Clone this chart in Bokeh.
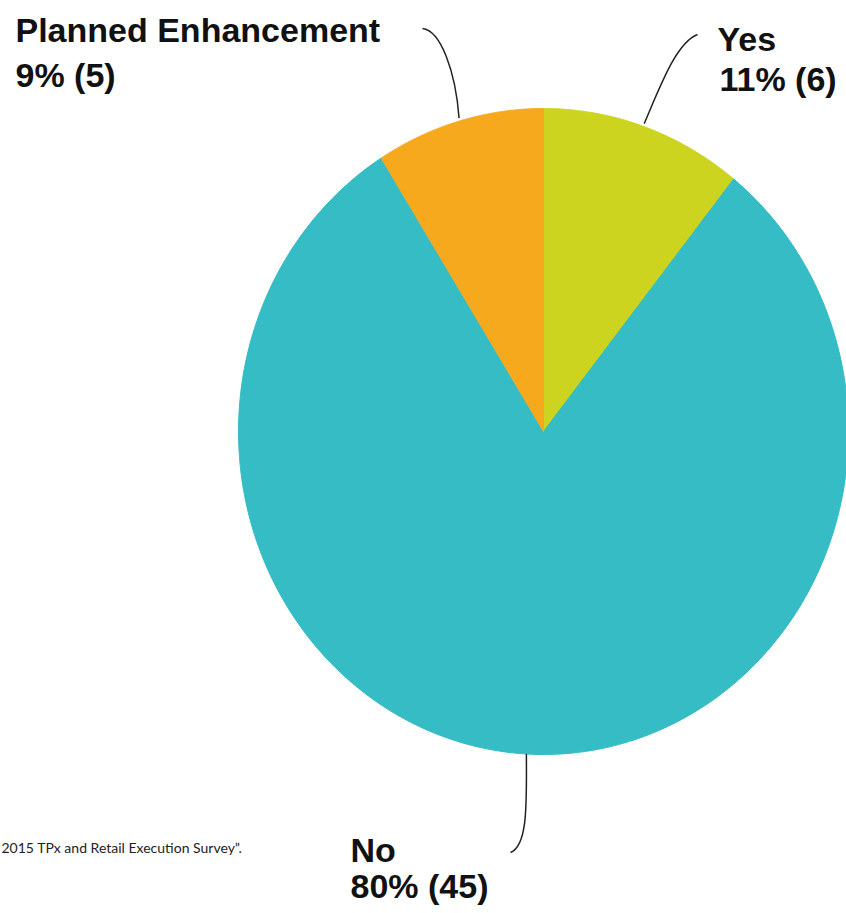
import numpy as np
from bokeh.plotting import figure
from bokeh.models import Range1d
from bokeh.core.properties import value
from bokeh.embed import file_html
from bokeh.resources import INLINE

# ---- data ----
categories = ["Yes", "No", "Planned Enhancement"]
counts = [6, 45, 5]
percents = ["11%", "80%", "9%"]
colors = ["#cdd420", "#35bcc4", "#f7a91e"]
footnote = "2015 TPx and Retail Execution Survey\u201d."

W, H = 846, 913
p = figure(width=W, height=H, output_backend="svg", toolbar_location=None,
           x_range=Range1d(0, W), y_range=Range1d(0, H), min_border=0)
p.axis.visible = False
p.grid.visible = False
p.outline_line_color = None
p.background_fill_color = "white"
p.border_fill_color = "white"

def fy(py):
    return H - py

cx, cy = 543, fy(431)
rx, ry = 305, 323

total = sum(counts)
# clockwise from 12 o'clock
start = np.pi / 2
mids = []
for cat, cnt, col in zip(categories, counts, colors):
    sweep = cnt / total * 2 * np.pi
    t = np.linspace(start, start - sweep, 200)
    xs = [cx] + list(cx + rx * np.cos(t)) + [cx]
    ys = [cy] + list(cy + ry * np.sin(t)) + [cy]
    p.patch(xs, ys, fill_color=col, line_color=col, line_width=1)
    mids.append(start - sweep / 2)
    start -= sweep

def edge(a):
    return cx + rx * np.cos(a), cy + ry * np.sin(a)

# leader lines
ex, ey = edge(mids[0])  # Yes
p.bezier(x0=[697], y0=[fy(34)], x1=[ex], y1=[ey + 3], cx0=[676], cy0=[fy(42)], cx1=[660], cy1=[fy(85)],
         line_color="#222222", line_width=1.5)
ex, ey = edge(mids[2])  # Planned
p.bezier(x0=[422], y0=[fy(28)], x1=[ex], y1=[ey + 3], cx0=[440], cy0=[fy(30)], cx1=[455], cy1=[fy(70)],
         line_color="#222222", line_width=1.5)
ex, ey = edge(mids[1])  # No
p.bezier(x0=[ex], y0=[ey], x1=[510], y1=[fy(852)], cx0=[ex], cy0=[fy(800)], cx1=[ex + 2], cy1=[fy(845)],
         line_color="#222222", line_width=1.5)

font = value("Liberation Sans")
lbl = dict(text_font=font, text_font_style="bold", text_font_size="34px",
           text_color="#111111", text_baseline="top", text_align="left")
p.text(x=[15, 15], y=[fy(10), fy(55)],
       text=[categories[2], f"{percents[2]} ({counts[2]})"], **lbl)
p.text(x=[717, 719], y=[fy(19), fy(59)],
       text=[categories[0], f"{percents[0]} ({counts[0]})"], **lbl)
p.text(x=[350, 350], y=[fy(830), fy(866)],
       text=[categories[1], f"{percents[1]} ({counts[1]})"], **lbl)

p.text(x=[1], y=[fy(847)], text=[footnote], text_font=value("Lato"),
       text_font_size="14px", text_color="#222222", text_baseline="middle", text_align="left")

open("out.html", "w").write(file_html(p, INLINE))
